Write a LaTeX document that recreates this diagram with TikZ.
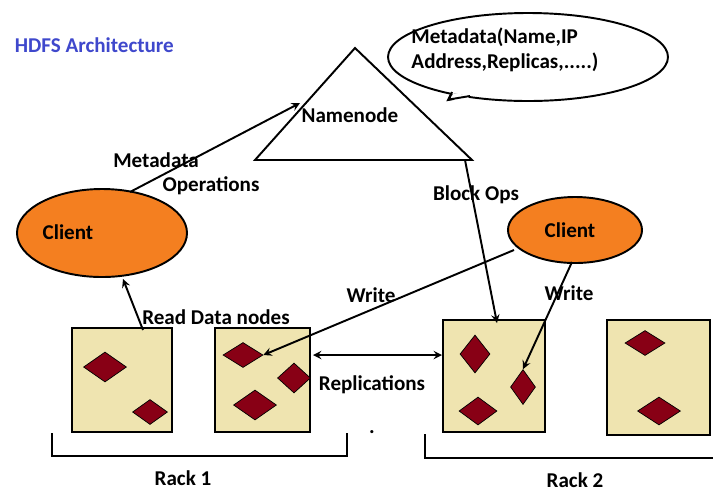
\documentclass[tikz,border=0pt]{standalone}
\usepackage{fontspec}
\setmainfont{Carlito}
\usetikzlibrary{shapes.geometric}
\definecolor{rackfill}{HTML}{EFE4B0}
\definecolor{blockred}{HTML}{880015}
\definecolor{clientfill}{HTML}{F47F20}
\definecolor{titleblue}{HTML}{3F48CC}

\begin{document}
\begin{tikzpicture}[x=0.02cm, y=-0.02cm, font=\bfseries\fontsize{12}{14.5}\selectfont,
    line width=1.1pt,
    lbl/.style={inner sep=1pt},
    rack/.style={draw, fill=rackfill},
    blk/.style={diamond, fill=blockred, draw=black, thin, inner sep=0pt, aspect=1.5},
    conn/.style={->, >=stealth},
    client/.style={ellipse, draw, fill=clientfill}]
  \useasboundingbox (0,0) rectangle (713,495);

  \node[anchor=west, text=titleblue] (title) at (8,45) {HDFS Architecture};

  % namenode triangle
  \coordinate (apex) at (355,48);
  \coordinate (bl) at (255,160);
  \coordinate (br) at (472,160);
  \draw[fill=white] (apex) -- (br) -- (bl) -- cycle;
  \node (nn) at (350,115) {Namenode};

  % speech bubble
  \draw[fill=white] (470,96) -- (448,100) -- (452,92) -- cycle;
  \node[ellipse, draw, fill=white, minimum width=280*0.02cm, minimum height=88*0.02cm] (bubble) at (528,57) {};
  \fill[white] (452,93) -- (470,95.5) -- (465,102) -- (455,102) -- cycle;
  \draw (449,99.5) -- (452,92);
  \draw (449,99.5) -- (470,96);
  \node[align=left] (meta) at (505,50) {Metadata(Name,IP\\Address,Replicas,.....)};

  % clients
  \node[client, minimum width=170*0.02cm, minimum height=88*0.02cm] (cl) at (102,233) {};
  \node (cltxt) at (68,232) {Client};
  \node[client, minimum width=134*0.02cm, minimum height=66*0.02cm] (cr) at (575,230) {};
  \node (crtxt) at (570,230) {Client};

  % racks
  \draw[rack] (72,328) rectangle (172,432);
  \draw[rack] (215,328) rectangle (310,432);
  \draw[rack] (443,320) rectangle (545,432);
  \draw[rack] (607,320) rectangle (710,435);

  \node[blk, minimum width=0.86cm, minimum height=0.6cm] (b1) at (105,367) {};
  \node[blk, minimum width=0.7cm, minimum height=0.5cm] (b2) at (150,412) {};
  \node[blk, minimum width=0.8cm, minimum height=0.5cm] (b3) at (243,355) {};
  \node[blk, minimum width=0.66cm, minimum height=0.6cm, aspect=1.1] (b4) at (294,378) {};
  \node[blk, minimum width=0.86cm, minimum height=0.6cm] (b5) at (255,405) {};
  \node[blk, minimum width=0.6cm, minimum height=0.76cm, aspect=0.8] (b6) at (475,354) {};
  \node[blk, minimum width=0.76cm, minimum height=0.56cm] (b7) at (478,411) {};
  \node[blk, minimum width=0.5cm, minimum height=0.7cm, aspect=0.7] (b8) at (523,387) {};
  \node[blk, minimum width=0.8cm, minimum height=0.5cm] (b9) at (645,343) {};
  \node[blk, minimum width=0.86cm, minimum height=0.56cm] (b10) at (659,411) {};

  % connectors
  \coordinate (clTop) at (130,192);
  \coordinate (nnIn) at (300,103);
  \draw[conn] (clTop) -- (nnIn);
  \node[lbl] (mdA) at (156,160) {Metadata};
  \node[lbl] (mdB) at (211,186) {Operations};

  \coordinate (triR) at (465,160);
  \coordinate (r3in) at (497,323);
  \draw[conn] (triR) -- (r3in);
  \node[lbl] (bops) at (476,195) {Block Ops};

  \coordinate (r1top) at (143,330);
  \coordinate (clBot) at (123,279);
  \draw[conn] (r1top) -- (clBot);
  \node[lbl] (read) at (216,317) {Read Data nodes};

  \coordinate (crL) at (514,250);
  \draw[conn] (crL) -- (b3.east);
  \node[lbl] (w1) at (371,295) {Write};

  \coordinate (crB) at (572,262);
  \draw[conn] (crB) -- (b8.north);
  \node[lbl] (w2) at (569,293) {Write};

  \coordinate (r2R) at (313,355);
  \coordinate (r3L) at (442,355);
  \draw[<->, >=stealth] (r2R) -- (r3L);
  \node[lbl] (repl) at (372,385) {Replications};

  % rack brackets
  \draw (52,433) -- (52,456) -- (347,456) -- (347,433);
  \draw (425,434) -- (425,458) -- (713,458);
  \node (dot) at (372,432) {.};
  \node (rk1) at (183,478) {Rack 1};
  \node (rk2) at (575,480) {Rack 2};
\end{tikzpicture}
\end{document}
